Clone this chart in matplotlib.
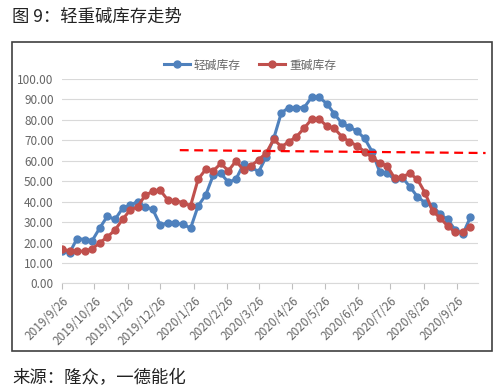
"""
Light vs heavy soda ash inventory (weekly), with a dashed reference line.
"""
import matplotlib
matplotlib.use("Agg")
import matplotlib.pyplot as plt
import pandas as pd
from matplotlib.patches import Rectangle
from matplotlib.ticker import FormatStrFormatter

plt.rcParams["font.family"] = ["Noto Sans CJK SC", "DejaVu Sans"]

# weekly observations, 2019/9/26 onward
START_DATE = "2019-09-26"
N_WEEKS    = 55

light_soda = [15.8, 15.0, 22.0, 21.5, 21.0, 27.2, 32.9, 31.3, 36.7, 38.3,
              40.0, 37.5, 36.2, 28.5, 29.8, 29.4, 29.0, 27.0, 38.0, 43.2,
              53.0, 53.8, 49.5, 51.0, 58.4, 57.0, 54.6, 62.0, 71.0, 83.5,
              86.0, 86.0, 86.0, 91.0, 91.0, 88.0, 83.0, 78.3, 76.5, 74.5,
              71.0, 64.5, 54.6, 53.8, 50.9, 51.8, 47.3, 42.4, 39.5, 38.0,
              33.8, 31.3, 26.1, 24.2, 32.5]

heavy_soda = [17.0, 15.8, 15.8, 15.8, 17.0, 19.9, 22.8, 26.1, 31.3, 35.9,
              37.5, 43.2, 45.0, 45.5, 40.8, 40.4, 39.6, 38.0, 51.0, 55.8,
              55.1, 58.7, 55.1, 59.9, 55.5, 57.6, 60.5, 63.8, 70.5, 66.9,
              69.3, 71.8, 75.9, 80.3, 80.3, 77.1, 75.9, 71.8, 69.3, 67.4,
              64.5, 61.5, 59.0, 57.4, 51.4, 52.2, 53.8, 50.9, 44.3, 35.5,
              32.0, 28.1, 25.0, 25.3, 27.8]

# hand-drawn dashed line on the chart
ref_x = ["2020-01-13", "2020-10-22"]
ref_y = [65.2, 63.8]

tick_dates  = ["2019-09-26", "2019-10-26", "2019-11-26", "2019-12-26",
               "2020-01-26", "2020-02-26", "2020-03-26", "2020-04-26",
               "2020-05-26", "2020-06-26", "2020-07-26", "2020-08-26",
               "2020-09-26"]
tick_labels = ["2019/9/26", "2019/10/26", "2019/11/26", "2019/12/26",
               "2020/1/26", "2020/2/26", "2020/3/26", "2020/4/26",
               "2020/5/26", "2020/6/26", "2020/7/26", "2020/8/26",
               "2020/9/26"]

BLUE  = "#4F81BD"
RED   = "#C0504D"
GRAY  = "#666666"

dates = pd.date_range(START_DATE, periods=N_WEEKS, freq="7D")

fig = plt.figure(figsize=(5, 3.92), dpi=100)
ax  = fig.add_axes([0.124, 0.2768, 0.832, 0.5217])

ax.plot(dates, light_soda, color=BLUE, lw=2.2, marker="o", ms=5,
        label="轻碱库存", zorder=3)
ax.plot(dates, heavy_soda, color=RED, lw=2.2, marker="o", ms=5,
        label="重碱库存", zorder=4)
ax.plot(pd.to_datetime(ref_x), ref_y, color="#FF0000", lw=1.6,
        ls=(0, (4, 2.5)), clip_on=False, zorder=5)

ax.set_ylim(0, 100)
ax.set_yticks(range(0, 101, 10))
ax.yaxis.set_major_formatter(FormatStrFormatter("%.2f"))
ax.set_xlim(dates[0], pd.Timestamp("2020-10-15"))
ax.set_xticks(pd.to_datetime(tick_dates))
ax.set_xticklabels(tick_labels, rotation=45, ha="right", va="top",
                   rotation_mode="anchor")

ax.yaxis.grid(True, color="#d9d9d9", lw=0.8)
ax.set_axisbelow(True)
for side in ["top", "right", "left"]:
    ax.spines[side].set_visible(False)
ax.spines["bottom"].set_color("#d9d9d9")
ax.tick_params(axis="y", length=0, labelsize=8.5, labelcolor=GRAY, pad=6)
ax.tick_params(axis="x", length=4, color="#bfbfbf", labelsize=8.5,
               labelcolor=GRAY, pad=4)

ax.legend(loc="center", bbox_to_anchor=(0.452, 1.068), ncol=2,
          frameon=False, fontsize=8.5, handlelength=2.2, columnspacing=1.6,
          handletextpad=0.3, labelcolor=GRAY)

fig.text(12 / 500, 1 - 17 / 392, "图 9：轻重碱库存走势", fontsize=12.5,
         color="#222222", va="center")
fig.text(12 / 500, 1 - 378 / 392, "来源：隆众，一德能化", fontsize=12.5,
         color="#222222", va="center")
fig.add_artist(Rectangle((12 / 500, 1 - 351 / 392), 480 / 500, 309 / 392,
                         transform=fig.transFigure, fill=False,
                         ec="#404040", lw=1.2))

fig.savefig("out.png", dpi=100)
